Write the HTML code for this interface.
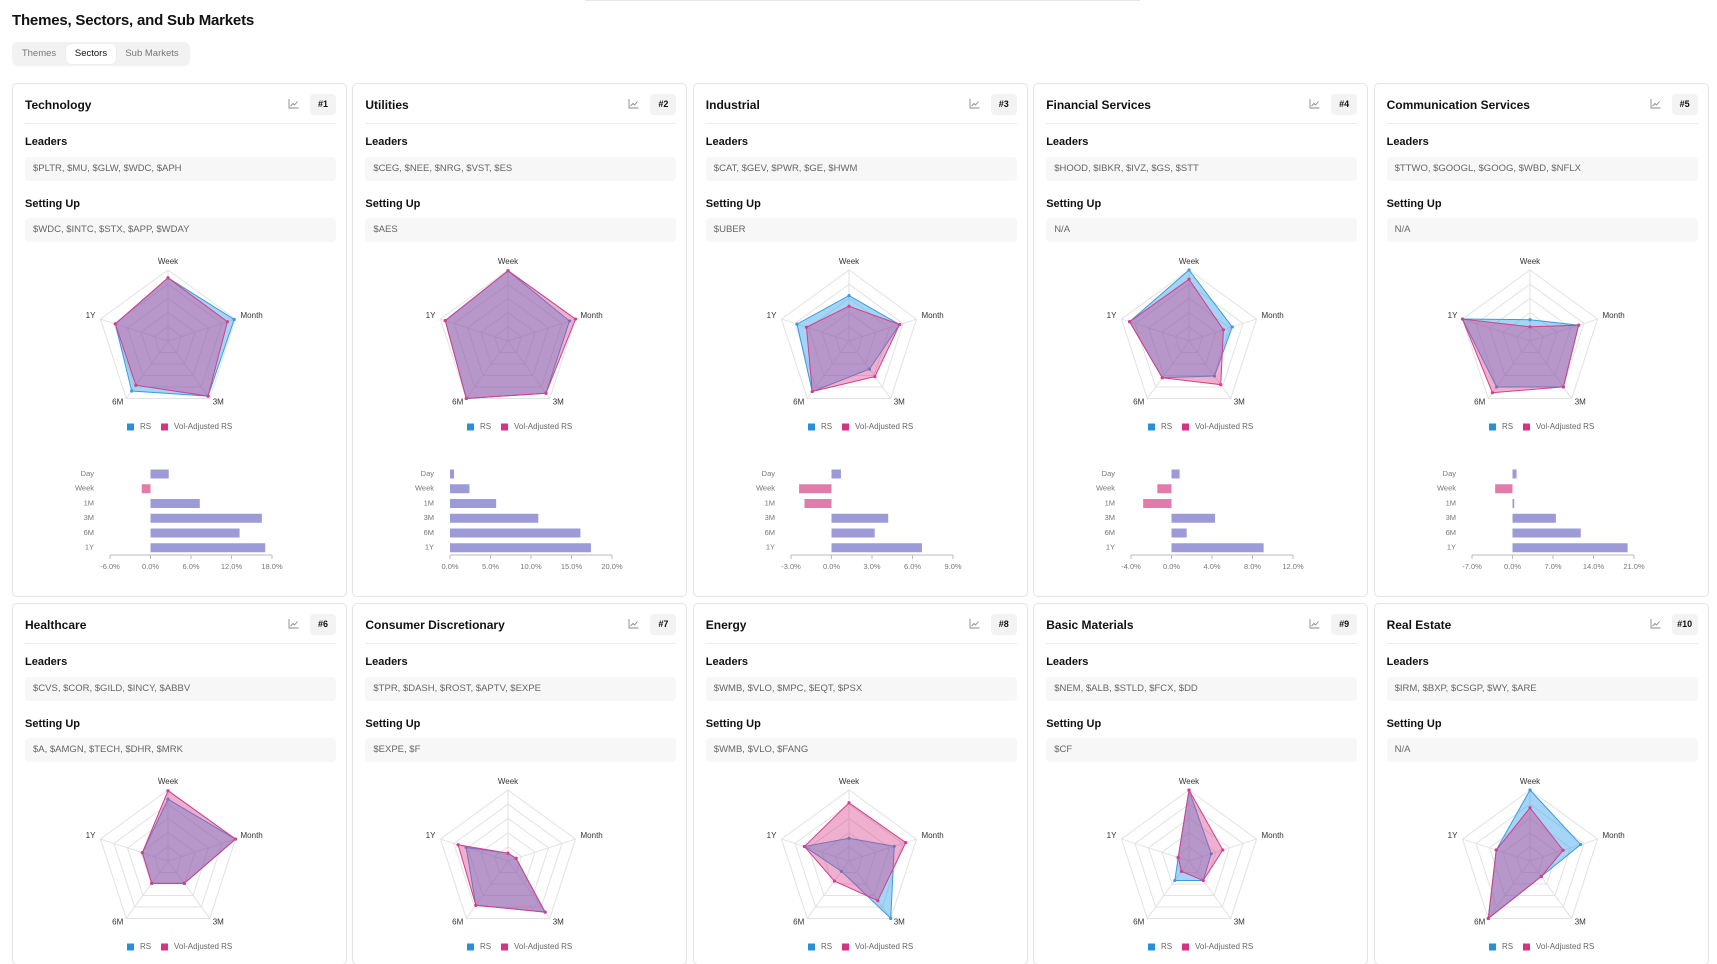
<!DOCTYPE html>
<html><head><meta charset="utf-8">
<style>
*{box-sizing:border-box;margin:0;padding:0}
html,body{width:1717px;height:964px;overflow:hidden;background:#fff;font-family:"Liberation Sans",sans-serif;color:#111}
#root{position:relative;width:1717px;height:964px;overflow:hidden}
#topline{position:absolute;left:585px;top:0;width:555px;height:1px;background:#e6e6e6}
h1{position:absolute;left:12px;top:12px;font-size:15px;font-weight:bold;letter-spacing:-0.2px}
#tabs{position:absolute;left:12px;top:42px;width:178px;height:24px;background:#f2f2f2;border-radius:6px}
.tab{position:absolute;top:2px;height:20px;line-height:20px;font-size:9.5px;color:#777;border-radius:5px;text-align:center}
.tab.active{background:#fff;color:#111;box-shadow:0 0 1px rgba(0,0,0,.15)}
.card{position:absolute;width:335px;height:514px;border:1px solid #e3e3e3;border-radius:5px;background:#fff;overflow:hidden}
.ctitle{position:absolute;left:12px;top:13px;font-size:12px;font-weight:bold;line-height:16px}
.cicon{position:absolute;left:275px;top:15px;width:11px;height:10px}
.badge{position:absolute;left:297px;top:10px;width:26px;height:21px;background:#f3f3f3;border-radius:4px;font-size:9px;font-weight:bold;text-align:center;line-height:21px}
.div{position:absolute;left:12px;top:39px;width:311px;height:1px;background:#ececec}
.lab{position:absolute;left:12px;font-size:11px;font-weight:bold}
.box{position:absolute;left:12px;width:311px;height:24px;background:#f7f7f7;border-radius:4px;font-size:9.5px;color:#666;line-height:24px;padding-left:8px}
svg.ch{position:absolute;left:0;top:0}
</style></head><body>
<div id="root">
<div id="topline"></div>
<h1>Themes, Sectors, and Sub Markets</h1>
<div id="tabs">
 <div class="tab" style="left:2px;width:50px">Themes</div>
 <div class="tab active" style="left:54px;width:50px">Sectors</div>
 <div class="tab" style="left:106px;width:68px">Sub Markets</div>
</div>
<div id="cards"></div>
</div>
<script>
const sectorNames=["Technology","Utilities","Industrial","Financial Services","Communication Services","Healthcare","Consumer Discretionary","Energy","Basic Materials","Real Estate"];
const leaders=["$PLTR, $MU, $GLW, $WDC, $APH","$CEG, $NEE, $NRG, $VST, $ES","$CAT, $GEV, $PWR, $GE, $HWM","$HOOD, $IBKR, $IVZ, $GS, $STT","$TTWO, $GOOGL, $GOOG, $WBD, $NFLX","$CVS, $COR, $GILD, $INCY, $ABBV","$TPR, $DASH, $ROST, $APTV, $EXPE","$WMB, $VLO, $MPC, $EQT, $PSX","$NEM, $ALB, $STLD, $FCX, $DD","$IRM, $BXP, $CSGP, $WY, $ARE"];
const settingUp=["$WDC, $INTC, $STX, $APP, $WDAY","$AES","$UBER","N/A","N/A","$A, $AMGN, $TECH, $DHR, $MRK","$EXPE, $F","$WMB, $VLO, $FANG","$CF","N/A"];
const radarAxes=["Week","Month","3M","6M","1Y"];
// radar values (0..1): Week, Month, 3M, 6M, 1Y
const rsValues=[
 [0.89,0.98,0.96,0.87,0.78],[0.99,0.91,0.91,1.0,0.93],[0.64,0.75,0.49,0.88,0.77],[1.0,0.64,0.61,0.64,0.88],[0.30,0.72,0.80,0.80,1.0],
 [0.87,1.0,0.39,0.39,0.38],[0.11,0.12,0.89,0.77,0.62],[0.32,0.67,1.0,0.18,0.66],[1.0,0.33,0.34,0.34,0.16],[1.0,0.75,0.27,1.0,0.5]];
const volAdjValues=[
 [0.89,0.88,0.96,0.77,0.78],[0.99,1.0,0.91,1.0,0.93],[0.49,0.75,0.62,0.88,0.63],[0.87,0.51,0.76,0.64,0.88],[0.20,0.72,0.80,0.90,1.0],
 [0.99,1.0,0.39,0.39,0.38],[0.11,0.12,0.89,0.77,0.74],[0.82,0.84,0.69,0.35,0.66],[1.0,0.50,0.34,0.18,0.16],[0.75,0.49,0.27,1.0,0.5]];
const barCategories=["Day","Week","1M","3M","6M","1Y"];
const perfValues=[
 [2.7,-1.3,7.3,16.5,13.2,17.0],
 [0.5,2.4,5.7,10.9,16.1,17.4],
 [0.7,-2.4,-2.0,4.2,3.2,6.7],
 [0.8,-1.4,-2.8,4.3,1.5,9.1],
 [0.7,-3.0,0.3,7.5,11.8,19.9]];
const axisTicks=[
 [-6,0,6,12,18],[0,5,10,15,20],[-3,0,3,6,9],[-4,0,4,8,12],[-7,0,7,14,21]];

const NS="http://www.w3.org/2000/svg";
function S(tag,attrs,parent){const e=document.createElementNS(NS,tag);for(const k in attrs)e.setAttribute(k,attrs[k]);if(parent)parent.appendChild(e);return e;}
const CX=155,CY=257,R=71;
function ang(i){return (-90+72*i)*Math.PI/180;}
function rpt(i,v){return [CX+R*v*Math.cos(ang(i)),CY+R*v*Math.sin(ang(i))];}
const cardsEl=document.getElementById('cards');
for(let c=0;c<10;c++){
 const row=Math.floor(c/5),col=c%5;
 const card=document.createElement('div');
 card.className='card';
 
 
 card.style.left=(12+col*340.4)+'px';card.style.top=(row?603:83)+'px';
 if(row) card.style.height='362px';
 card.innerHTML=`<div class="ctitle">${sectorNames[c]}</div>
 <svg class="cicon" viewBox="0 0 11 10"><path d="M1 0V9H10.5" fill="none" stroke="#888" stroke-width="0.9"/><path d="M2.5 7L5 4.5L6.5 6L9.5 2.5" fill="none" stroke="#888" stroke-width="0.9"/></svg>
 <div class="badge">#${c+1}</div>
 <div class="div"></div>
 <div class="lab" style="top:52px">Leaders</div>
 <div class="box" style="top:73px">${leaders[c]}</div>
 <div class="lab" style="top:114px">Setting Up</div>
 <div class="box" style="top:134px">${settingUp[c]}</div>`;
 cardsEl.appendChild(card);
 const svg=S('svg',{class:'ch',width:335,height:row?362:514});
 
 
 card.appendChild(svg);
 for(let l=1;l<=5;l++){
  const pts=radarAxes.map((a,i)=>rpt(i,l/5).join(',')).join(' ');
  const g=S('polygon',{points:pts,fill:'none',stroke:'#e2e2e2','stroke-width':1},svg);
  
  
 }
 radarAxes.forEach((a,i)=>{const p=rpt(i,1);const s=S('line',{x1:CX,y1:CY,x2:p[0],y2:p[1],stroke:'#e2e2e2'},svg);
  
  
 });
 const series=[[rsValues[c],'rgba(54,162,235,0.45)','#3b9ae0','rs-series'],[volAdjValues[c],'rgba(214,51,132,0.39)','#d23f8c','vol-adjusted-series']];
 series.forEach(([vals,fill,stroke,nm])=>{
  const pts=vals.map((v,i)=>rpt(i,v).join(',')).join(' ');
  const p=S('polygon',{points:pts,fill:fill,stroke:stroke,'stroke-width':1},svg);
  
  
  vals.forEach((v,i)=>{const q=rpt(i,v);const d=S('circle',{cx:q[0],cy:q[1],r:1.6,fill:stroke},svg);
   
   
  });
 });
 const lp=[[CX,CY-R-8,'middle'],[CX+R*0.951+5,CY-R*0.309-3,'start'],[CX+R*0.588+3,CY+R*0.809+4,'start'],[CX-R*0.588-3,CY+R*0.809+4,'end'],[CX-R*0.951-5,CY-R*0.309-3,'end']];
 radarAxes.forEach((a,i)=>{const t=S('text',{x:lp[i][0],y:lp[i][1],'text-anchor':lp[i][2],'dominant-baseline':'middle','font-size':8,fill:'#333'},svg);t.textContent=a;
  
  
 });
 const lg=S('g',{},svg);
 
 
 S('rect',{x:114,y:339.5,width:7,height:7,fill:'#2b8fd6'},lg);
 let t=S('text',{x:127,y:343,'dominant-baseline':'middle','font-size':8,fill:'#666'},lg);t.textContent='RS';
 S('rect',{x:148,y:339.5,width:7,height:7,fill:'#d63384'},lg);
 t=S('text',{x:161,y:343,'dominant-baseline':'middle','font-size':8,fill:'#666'},lg);t.textContent='Vol-Adjusted RS';
 if(row===0){
  const ticks=axisTicks[c],mn=ticks[0],mx=ticks[ticks.length-1];
  const X0=97,X1=259;
  const xs=v=>X0+(v-mn)/(mx-mn)*(X1-X0);
  const bg=S('g',{},svg);
  
  
  barCategories.forEach((cat,i)=>{
   const y=390+i*14.75, v=perfValues[c][i];
   const x0=xs(0),x1=xs(v);
   const b=S('rect',{x:Math.min(x0,x1),y:y-4.5,width:Math.max(Math.abs(x1-x0),1),height:9,fill:v<0?'#e27aaa':'#9c9bd8'},bg);
   
   
   const l=S('text',{x:81,y:y,'text-anchor':'end','dominant-baseline':'middle','font-size':7.5,fill:'#777'},bg);l.textContent=cat;
   
   
  });
  const ax=S('line',{x1:X0,y1:471,x2:X1,y2:471,stroke:'#bbb'},bg);
  
  
  ticks.forEach(tk=>{
   S('line',{x1:xs(tk),y1:471,x2:xs(tk),y2:475,stroke:'#bbb'},bg);
   const tl=S('text',{x:xs(tk),y:483,'text-anchor':'middle','dominant-baseline':'middle','font-size':7.5,fill:'#777'},bg);
   tl.textContent=tk.toFixed(1)+'%';
   
   
  });
 }
}
</script>
</body></html>
